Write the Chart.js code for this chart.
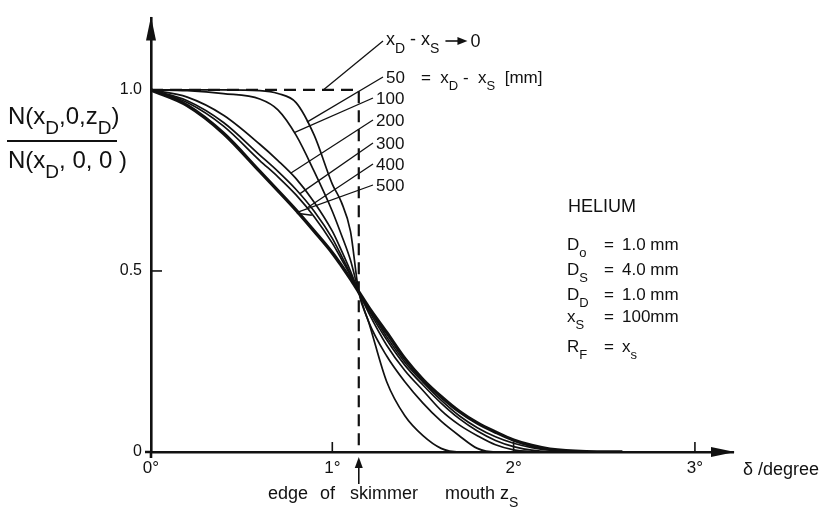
<!DOCTYPE html>
<html>
<head>
<meta charset="utf-8">
<script src="https://cdn.jsdelivr.net/npm/chart.js@4.4.1/dist/chart.umd.min.js"></script>
<style>
  html, body { margin: 0; padding: 0; background: #fff; }
  canvas { display: block; }
</style>
</head>
<body>
<canvas id="chart" width="830" height="508"></canvas>
<script>
// angle delta in degree, shared by all curves
var delta = [0, 0.2, 0.4, 0.6, 0.7, 0.8, 0.9, 1.0, 1.05, 1.1, 1.146, 1.2, 1.3, 1.4, 1.5, 1.6, 1.7, 1.8, 1.9, 2.0, 2.1, 2.2, 2.4, 2.6];

// N(xD,0,zD)/N(xD,0,0) for xD - xS [mm]
var n50  = [1, 1, 1, 0.998, 0.99, 0.965, 0.875, 0.74, 0.69, 0.61, 0.442, 0.36, 0.194, 0.1, 0.045, 0.01, 0, 0, 0, 0, 0, 0, 0, 0];
var n100 = [1, 0.998, 0.99, 0.975, 0.945, 0.875, 0.775, 0.665, 0.6, 0.53, 0.442, 0.36, 0.265, 0.194, 0.135, 0.085, 0.045, 0.01, 0, 0, 0, 0, 0, 0];
var n200 = [1, 0.98, 0.93, 0.85, 0.805, 0.755, 0.69, 0.61, 0.557, 0.5, 0.442, 0.385, 0.295, 0.225, 0.17, 0.115, 0.075, 0.045, 0.02, 0.006, 0.001, 0, 0, 0];
var n300 = [1, 0.97, 0.91, 0.82, 0.775, 0.725, 0.665, 0.59, 0.542, 0.492, 0.442, 0.392, 0.31, 0.24, 0.185, 0.135, 0.092, 0.058, 0.032, 0.015, 0.005, 0.001, 0, 0];
var n400 = [1, 0.965, 0.9, 0.805, 0.76, 0.71, 0.65, 0.577, 0.533, 0.488, 0.442, 0.398, 0.318, 0.248, 0.193, 0.143, 0.1, 0.067, 0.042, 0.024, 0.012, 0.005, 0, 0];
var n500 = [1, 0.957, 0.88, 0.775, 0.722, 0.668, 0.61, 0.55, 0.515, 0.478, 0.442, 0.4, 0.33, 0.258, 0.2, 0.153, 0.112, 0.08, 0.055, 0.033, 0.018, 0.008, 0.001, 0];

// limit xD - xS -> 0 (step at the skimmer edge)
var limitX = [0, 1.146, 1.146];
var limitY = [1, 1, 0];

var seriesNames = ['50', '100', '200', '300', '400', '500'];
var series = [n50, n100, n200, n300, n400, n500];

var xTicks = [0, 1, 2, 3];
var xTickLabels = ['0°', '1°', '2°', '3°'];
var yTicks = [0, 0.5, 1.0];
var yTickLabels = ['0', '0.5', '1.0'];

var INK = '#111';
var FONT = '"Liberation Sans", Arial, sans-serif';

function pts(xs, ys) {
    return xs.map(function(x, i) { return { x: x, y: ys[i] }; });
}

function valueAt(arr, d) {
    for (var i = 1; i < delta.length; i++) {
        if (d <= delta[i]) {
            var t = (d - delta[i - 1]) / (delta[i] - delta[i - 1]);
            return arr[i - 1] + t * (arr[i] - arr[i - 1]);
        }
    }
    return arr[arr.length - 1];
}

// text with subscripts: parts = [[text, 'n' | 's'], ...]
function rich(ctx, x, y, parts, size) {
    parts.forEach(function(p) {
        var sub = p[1] === 's';
        ctx.font = (sub ? Math.round(size * 0.78) : size) + 'px ' + FONT;
        ctx.fillText(p[0], x, sub ? y + Math.round(size * 0.42) : y);
        x += ctx.measureText(p[0]).width;
    });
    return x;
}

var datasets = series.map(function(arr, i) {
    return {
        label: seriesNames[i],
        data: pts(delta, arr),
        borderColor: INK,
        borderWidth: i === 5 ? 3.4 : 1.7,
        pointRadius: 0,
        fill: false,
        cubicInterpolationMode: 'monotone'
    };
});
datasets.push({
    label: 'limit',
    data: pts(limitX, limitY),
    borderColor: INK,
    borderWidth: 2.2,
    borderDash: [12, 7],
    pointRadius: 0,
    fill: false,
    tension: 0
});

var decor = {
    id: 'decor',
    afterDraw: function(chart) {
        var ctx = chart.ctx;
        var xs = chart.scales.x, ys = chart.scales.y;
        var a = chart.chartArea;
        ctx.save();
        ctx.fillStyle = INK;
        ctx.strokeStyle = INK;
        ctx.lineCap = 'butt';

        // axis stubs past the origin and arrow heads
        ctx.lineWidth = 2.6;
        ctx.beginPath();
        ctx.moveTo(a.left, a.bottom);
        ctx.lineTo(a.left, a.bottom + 6);
        ctx.moveTo(a.left, a.bottom);
        ctx.lineTo(a.left - 6, a.bottom);
        ctx.stroke();
        ctx.beginPath();
        ctx.moveTo(a.left, a.top - 2);
        ctx.lineTo(a.left - 5, a.top + 22);
        ctx.lineTo(a.left + 5, a.top + 22);
        ctx.closePath();
        ctx.fill();
        ctx.beginPath();
        ctx.moveTo(a.right + 2, a.bottom);
        ctx.lineTo(a.right - 22, a.bottom - 5);
        ctx.lineTo(a.right - 22, a.bottom + 5);
        ctx.closePath();
        ctx.fill();

        // inward tick marks
        ctx.lineWidth = 1.6;
        [1, 2, 3].forEach(function(v) {
            var px = xs.getPixelForValue(v);
            ctx.beginPath();
            ctx.moveTo(px, a.bottom);
            ctx.lineTo(px, a.bottom - 10);
            ctx.stroke();
        });
        var p5 = ys.getPixelForValue(0.5);
        ctx.beginPath();
        ctx.moveTo(a.left, p5);
        ctx.lineTo(a.left + 11, p5);
        ctx.stroke();

        // leaders to the curves
        var anchorAt = [0.86, 0.79, 0.77, 0.82, 0.86, 0.81];
        var labelY = [77, 98, 120, 143, 164, 185];
        ctx.lineWidth = 1.3;
        ctx.textBaseline = 'middle';
        seriesNames.forEach(function(name, i) {
            var d = anchorAt[i];
            var ax = xs.getPixelForValue(d);
            var ay = ys.getPixelForValue(valueAt(series[i], d));
            var ex = i === 0 ? 383 : 373;
            ctx.beginPath();
            ctx.moveTo(ax, ay);
            ctx.lineTo(ex, labelY[i]);
            ctx.stroke();
            ctx.font = '17px ' + FONT;
            ctx.fillText(name, ex + 3, labelY[i] + 1);
            if (i === 5) {
                ctx.beginPath();
                ctx.moveTo(ax + 14, ay + 3);
                ctx.lineTo(ax - 1, ay + 1);
                ctx.stroke();
            }
        });

        // limit label
        var lx = xs.getPixelForValue(0.95), ly = ys.getPixelForValue(1);
        ctx.beginPath();
        ctx.moveTo(lx, ly);
        ctx.lineTo(383, 41);
        ctx.stroke();
        ctx.textBaseline = 'alphabetic';
        var x = rich(ctx, 386, 45, [['x', 'n'], ['D', 's'], [' - ', 'n'], ['x', 'n'], ['S', 's']], 18);
        ctx.lineWidth = 1.6;
        ctx.beginPath();
        ctx.moveTo(x + 6, 41);
        ctx.lineTo(x + 20, 41);
        ctx.stroke();
        ctx.beginPath();
        ctx.moveTo(x + 28, 41);
        ctx.lineTo(x + 18, 37);
        ctx.lineTo(x + 18, 45);
        ctx.closePath();
        ctx.fill();
        rich(ctx, x + 31, 47, [['0', 'n']], 18);

        rich(ctx, 421, 83, [['=  x', 'n'], ['D', 's'], [' -  x', 'n'], ['S', 's'], ['  [mm]', 'n']], 17);

        // y axis title as a fraction
        rich(ctx, 8, 124, [['N(x', 'n'], ['D', 's'], [',0,z', 'n'], ['D', 's'], [')', 'n']], 24);
        ctx.lineWidth = 2;
        ctx.beginPath();
        ctx.moveTo(7, 141);
        ctx.lineTo(117, 141);
        ctx.stroke();
        rich(ctx, 8, 168, [['N(x', 'n'], ['D', 's'], [', 0, 0 )', 'n']], 24);

        // x axis title
        ctx.font = '18px ' + FONT;
        ctx.fillText('δ /degree', 743, 475);

        // skimmer edge marker
        var ex0 = xs.getPixelForValue(limitX[1]);
        ctx.lineWidth = 1.6;
        ctx.beginPath();
        ctx.moveTo(ex0, 484);
        ctx.lineTo(ex0, 464);
        ctx.stroke();
        ctx.beginPath();
        ctx.moveTo(ex0, 457);
        ctx.lineTo(ex0 - 4, 468);
        ctx.lineTo(ex0 + 4, 468);
        ctx.closePath();
        ctx.fill();
        ctx.font = '18px ' + FONT;
        ctx.fillText('edge', 268, 499);
        ctx.fillText('of', 320, 499);
        ctx.fillText('skimmer', 350, 499);
        ctx.fillText('mouth', 445, 499);
        rich(ctx, 500, 499, [['z', 'n'], ['S', 's']], 18);

        // parameter block
        ctx.font = '18px ' + FONT;
        ctx.fillText('HELIUM', 568, 212);
        var rows = [
            [[['D', 'n'], ['o', 's']], '1.0 mm', 250],
            [[['D', 'n'], ['S', 's']], '4.0 mm', 275],
            [[['D', 'n'], ['D', 's']], '1.0 mm', 300],
            [[['x', 'n'], ['S', 's']], '100mm', 322],
            [[['R', 'n'], ['F', 's']], null, 352]
        ];
        rows.forEach(function(r) {
            rich(ctx, 567, r[2], r[0], 17);
            ctx.font = '17px ' + FONT;
            ctx.fillText('=', 604, r[2]);
            if (r[1]) {
                ctx.fillText(r[1], 622, r[2]);
            } else {
                rich(ctx, 622, r[2], [['x', 'n'], ['s', 's']], 17);
            }
        });
        ctx.restore();
    }
};

new Chart(document.getElementById('chart'), {
    type: 'line',
    data: { datasets: datasets },
    plugins: [decor],
    options: {
        responsive: false,
        animation: false,
        devicePixelRatio: 1,
        layout: { padding: { left: 111, right: 97, top: 8, bottom: 0 } },
        plugins: {
            legend: { display: false },
            tooltip: { enabled: false }
        },
        scales: {
            x: {
                type: 'linear',
                min: 0,
                max: 3.21,
                afterFit: function(scale) { scale.height = 56; },
                afterBuildTicks: function(scale) {
                    scale.ticks = xTicks.map(function(v) { return { value: v }; });
                },
                grid: { display: false, drawTicks: false },
                border: { display: true, color: INK, width: 2.6 },
                ticks: {
                    padding: 6,
                    color: INK,
                    font: { family: FONT, size: 17 },
                    maxRotation: 0,
                    callback: function(v) { return xTickLabels[xTicks.indexOf(v)]; }
                }
            },
            y: {
                type: 'linear',
                min: 0,
                max: 1.197,
                afterFit: function(scale) { scale.width = 40; },
                afterBuildTicks: function(scale) {
                    scale.ticks = yTicks.map(function(v) { return { value: v }; });
                },
                grid: { display: false, drawTicks: false },
                border: { display: true, color: INK, width: 2.6 },
                ticks: {
                    padding: 9,
                    color: INK,
                    font: { family: FONT, size: 16 },
                    callback: function(v) { return yTickLabels[yTicks.indexOf(v)]; }
                }
            }
        }
    }
});
</script>
</body>
</html>
